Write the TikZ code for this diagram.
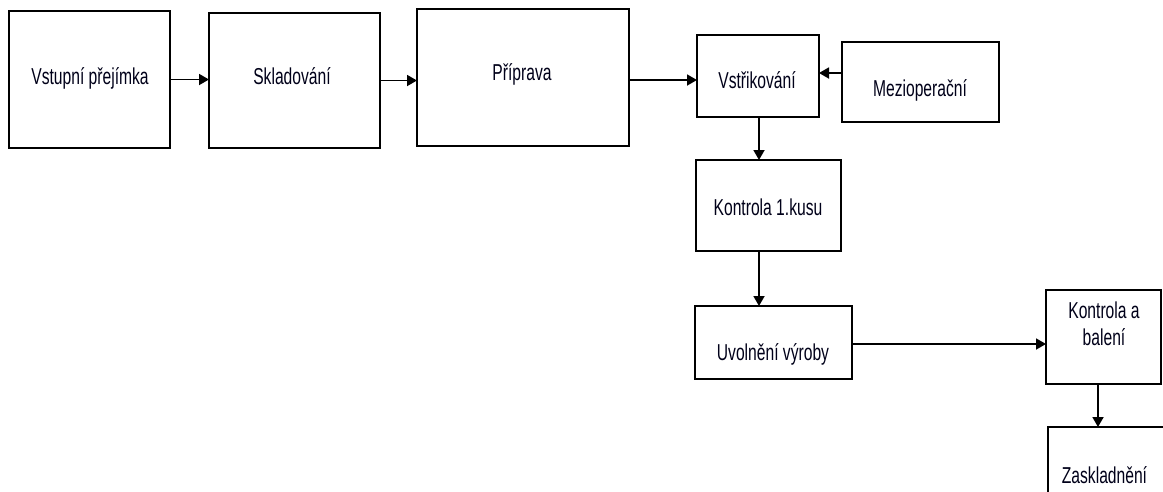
\documentclass[tikz,border=0pt]{standalone}
\usepackage{fontspec}
\setmainfont[FakeStretch=0.68]{Liberation Sans}
\usetikzlibrary{arrows.meta,calc}
\begin{document}
\begin{tikzpicture}[x=1pt,y=-1pt,
  stepbox/.style={draw=black,line width=1.8pt,fill=white,inner sep=0pt,outer sep=0pt},
  steptext/.style={anchor=base,inner sep=0pt,font=\fontsize{23}{27}\selectfont,text=black!90!blue},
  arr/.style={draw=black,line width=1.8pt,-{Triangle[length=10pt,width=11pt]}}]
\useasboundingbox (0,0) rectangle (1163,491);
\clip (0,0) rectangle (1163,491);
% process steps
\node[stepbox,minimum width=161pt,minimum height=137pt] (b1) at (89.5,79.5) {};
\node[stepbox,minimum width=171pt,minimum height=135pt] (b2) at (294.5,80.5) {};
\node[stepbox,minimum width=212pt,minimum height=137pt] (b3) at (523,77.5) {};
\node[stepbox,minimum width=122pt,minimum height=82pt] (b4) at (758,76) {};
\node[stepbox,minimum width=157pt,minimum height=80pt] (b5) at (920.5,82) {};
\node[stepbox,minimum width=145pt,minimum height=91pt] (b6) at (768.5,205.5) {};
\node[stepbox,minimum width=157pt,minimum height=73pt] (b7) at (773.5,342.5) {};
\node[stepbox,minimum width=115pt,minimum height=94pt] (b8) at (1103.5,337) {};
\node[stepbox,minimum width=130pt,minimum height=90pt] (b9) at (1113,472) {};
% labels
\node[steptext] (t1) at (90,84) {Vstupní přejímka};
\node[steptext] (t2) at (292,84) {Skladování};
\node[steptext] (t3) at (522,80) {Příprava};
\node[steptext] (t4) at (757,88) {Vstřikování};
\node[steptext] (t5) at (920,96) {Mezioperační};
\node[steptext] (t6) at (768,215) {Kontrola 1.kusu};
\node[steptext] (t7) at (773,360) {Uvolnění výroby};
\node[steptext,align=center] (t8) at (1104,345) {Kontrola a\\balení};
\node[steptext] (t9) at (1104.5,483) {Zaskladnění};
% connector start points
\coordinate (s3) at ($(b3.east)+(0,2.5)$);
\coordinate (s5) at ($(b5.west)+(0,-9)$);
\coordinate (s4) at ($(b4.south)+(1,0)$);
\coordinate (s6) at ($(b6.south)+(-9.5,0)$);
\coordinate (s7) at ($(b7.east)+(0,1.5)$);
\coordinate (s8) at ($(b8.south)+(-5.5,0)$);
% flow
\draw[arr] (b1.east) -- (b1.east -| b2.west);
\draw[arr] (b2.east) -- (b2.east -| b3.west);
\draw[arr] (s3) -- (s3 -| b4.west);
\draw[arr] (s5) -- (s5 -| b4.east);
\draw[arr] (s4) -- (s4 |- b6.north);
\draw[arr] (s6) -- (s6 |- b7.north);
\draw[arr] (s7) -- (s7 -| b8.west);
\draw[arr] (s8) -- (s8 |- b9.north);
\end{tikzpicture}
\end{document}
